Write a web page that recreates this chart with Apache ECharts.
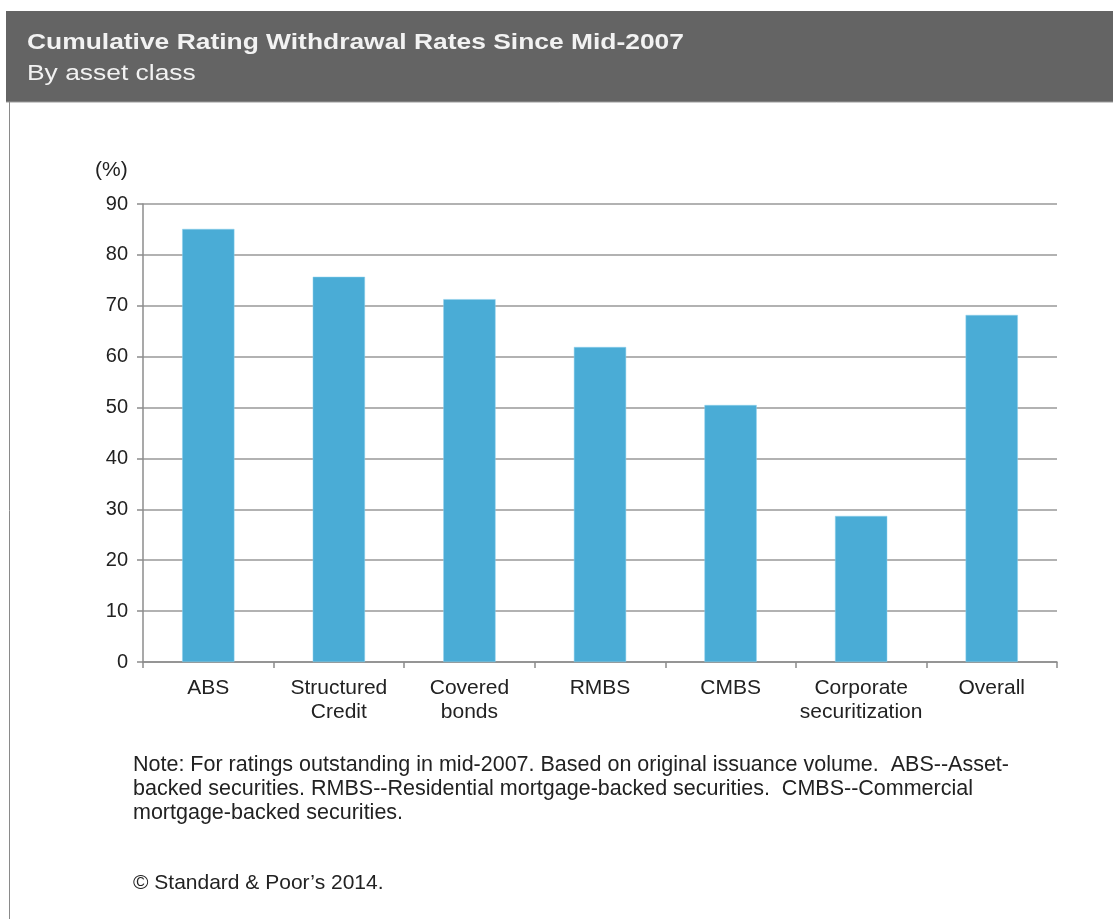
<!DOCTYPE html>
<html>
<head>
<meta charset="utf-8">
<script src="https://cdn.jsdelivr.net/npm/echarts@6/dist/echarts.min.js"></script>
<style>
  html, body { margin: 0; padding: 0; background: #ffffff; }
  #chart { width: 1113px; height: 919px; }
</style>
</head>
<body>
<div id="chart"></div>
<script>
// Asset classes and cumulative withdrawal rates (%)
const categories = ['ABS', 'Structured\nCredit', 'Covered\nbonds', 'RMBS', 'CMBS', 'Corporate\nsecuritization', 'Overall'];
const withdrawalRates = [85.1, 75.7, 71.3, 61.9, 50.5, 28.7, 68.2];
const yTicks = [0, 10, 20, 30, 40, 50, 60, 70, 80, 90];

const titleText = 'Cumulative Rating Withdrawal Rates Since Mid-2007';
const subtitleText = 'By asset class';
const unitText = '(%)';
const noteLines = [
  'Note: For ratings outstanding in mid-2007. Based on original issuance volume.  ABS--Asset-',
  'backed securities. RMBS--Residential mortgage-backed securities.  CMBS--Commercial',
  'mortgage-backed securities.'
];
const sourceText = '\u00A9 Standard & Poor\u2019s 2014.';

const FONT = '"Liberation Sans", Arial, sans-serif';

const chart = echarts.init(document.getElementById('chart'));

const graphics = [
  // header band
  { type: 'rect', shape: { x: 6, y: 11, width: 1107, height: 91 }, style: { fill: '#646464' } },
  { type: 'line', shape: { x1: 6, y1: 102, x2: 1113, y2: 102 }, style: { stroke: '#9a9a9a', lineWidth: 1 } },
  // left frame edge
  { type: 'line', shape: { x1: 9.5, y1: 102, x2: 9.5, y2: 919 }, style: { stroke: '#8a8a8a', lineWidth: 1 } },
  { type: 'text', x: 27, y: 43, scaleX: 1.2, style: { text: titleText, fill: '#f2f2f2', font: 'bold 22px ' + FONT, verticalAlign: 'middle' } },
  { type: 'text', x: 27, y: 74, scaleX: 1.2, style: { text: subtitleText, fill: '#f2f2f2', font: '22px ' + FONT, verticalAlign: 'middle' } },
  { type: 'text', x: 95, y: 170, style: { text: unitText, fill: '#222', font: '21px ' + FONT, verticalAlign: 'middle' } },
  { type: 'text', x: 133, y: 883, style: { text: sourceText, fill: '#222', font: '21px ' + FONT, verticalAlign: 'middle' } }
];
noteLines.forEach((line, i) => {
  graphics.push({ type: 'text', x: 133, y: 765 + i * 24, style: { text: line, fill: '#222', font: '21.5px ' + FONT, verticalAlign: 'middle' } });
});

chart.setOption({
  animation: false,
  backgroundColor: '#ffffff',
  textStyle: { fontFamily: FONT },
  grid: { left: 143, right: 56, top: 204, bottom: 257, containLabel: false },
  xAxis: {
    type: 'category',
    data: categories,
    axisLine: { lineStyle: { color: '#8c8c8c', width: 1.5 } },
    axisTick: { show: true, length: 6, lineStyle: { color: '#8c8c8c', width: 1.5 } },
    axisLabel: { color: '#222', fontSize: 21, lineHeight: 24, margin: 14, interval: 0 }
  },
  yAxis: {
    type: 'value',
    min: yTicks[0],
    max: yTicks[yTicks.length - 1],
    interval: 10,
    axisLine: { show: true, lineStyle: { color: '#8c8c8c', width: 1.5 } },
    axisTick: { show: true, length: 6, lineStyle: { color: '#8c8c8c', width: 1.5 } },
    axisLabel: { color: '#222', fontSize: 20, margin: 15 },
    splitLine: { lineStyle: { color: '#999999', width: 1.5 } }
  },
  series: [{
    type: 'bar',
    data: withdrawalRates,
    barWidth: '40%',
    itemStyle: { color: '#4aacd6', borderColor: '#8fd0ec', borderWidth: 0.5 }
  }],
  graphic: graphics
});
</script>
</body>
</html>
